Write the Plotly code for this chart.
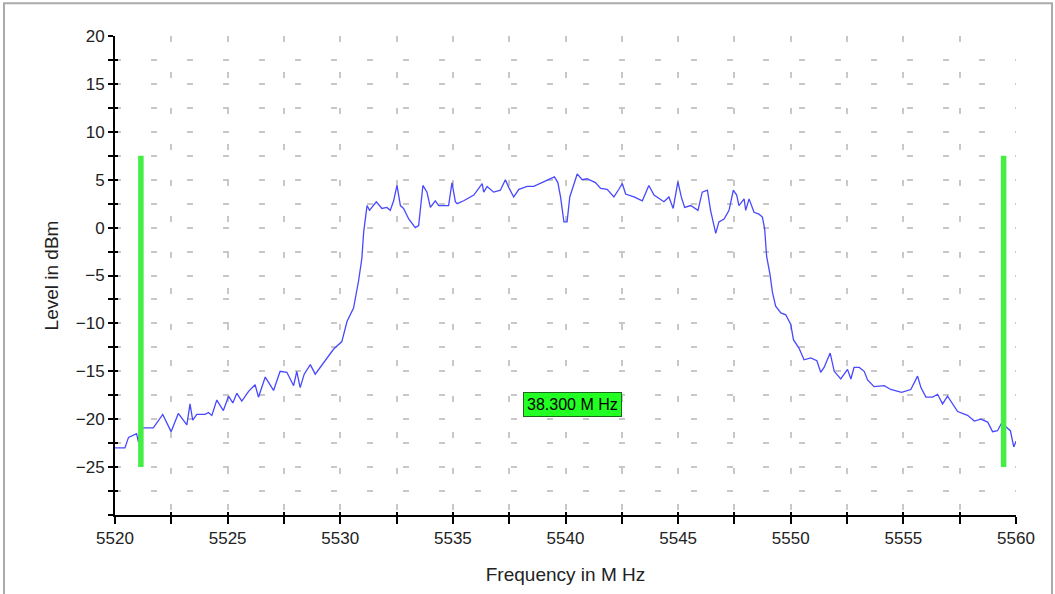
import plotly.graph_objects as go

# ---- data ----
freq_mhz = [
    5520.00, 5520.44, 5520.60, 5520.96, 5521.04, 5521.12, 5521.26, 5521.70, 5522.12, 5522.49,
    5522.81, 5523.19, 5523.33, 5523.45, 5523.63, 5524.00, 5524.15, 5524.30, 5524.52, 5524.81,
    5525.04, 5525.23, 5525.41, 5525.63, 5525.93, 5526.22, 5526.37, 5526.67, 5527.04, 5527.33,
    5527.63, 5527.93, 5528.07, 5528.22, 5528.40, 5528.67, 5528.89, 5529.26, 5529.50, 5529.70,
    5530.07, 5530.30, 5530.59, 5530.81, 5530.96, 5531.04, 5531.19, 5531.30, 5531.60, 5531.85,
    5532.07, 5532.22, 5532.37, 5532.52, 5532.67, 5532.81, 5533.04, 5533.33, 5533.48, 5533.59,
    5533.67, 5533.85, 5534.00, 5534.22, 5534.37, 5534.81, 5534.96, 5535.11, 5535.19, 5535.48,
    5535.93, 5536.30, 5536.37, 5536.52, 5536.81, 5537.11, 5537.33, 5537.48, 5537.70, 5537.93,
    5538.30, 5538.59, 5538.89, 5539.19, 5539.51, 5539.66, 5539.78, 5539.93, 5540.07, 5540.19,
    5540.37, 5540.52, 5540.74, 5540.96, 5541.33, 5541.56, 5541.85, 5542.15, 5542.37, 5542.52,
    5542.67, 5543.04, 5543.41, 5543.70, 5543.93, 5544.37, 5544.59, 5544.78, 5544.99, 5545.14,
    5545.29, 5545.56, 5545.88, 5546.07, 5546.30, 5546.44, 5546.67, 5546.81, 5547.04, 5547.26,
    5547.45, 5547.60, 5547.70, 5547.93, 5548.00, 5548.15, 5548.37, 5548.59, 5548.74, 5548.84,
    5548.93, 5549.08, 5549.19, 5549.33, 5549.56, 5549.78, 5550.00, 5550.12, 5550.37, 5550.59,
    5550.89, 5551.16, 5551.33, 5551.48, 5551.75, 5551.93, 5552.22, 5552.52, 5552.67, 5552.81,
    5553.04, 5553.26, 5553.41, 5553.70, 5554.15, 5554.44, 5554.92, 5555.33, 5555.63, 5555.78,
    5556.00, 5556.30, 5556.52, 5556.74, 5556.96, 5557.18, 5557.41, 5557.85, 5558.15, 5558.44,
    5558.74, 5558.96, 5559.18, 5559.36, 5559.63, 5559.75, 5559.90, 5560.00,
]
level_dbm = [
    -23.0, -23.0, -21.9, -21.5, -22.4, -21.0, -20.9, -20.9, -19.5, -21.3,
    -19.4, -20.6, -18.4, -20.1, -19.5, -19.5, -19.3, -19.6, -18.0, -19.1,
    -17.6, -18.3, -17.3, -18.1, -17.1, -16.4, -17.7, -15.6, -17.0, -15.0,
    -15.1, -16.5, -15.0, -16.7, -15.3, -14.3, -15.3, -14.1, -13.3, -12.7,
    -11.9, -9.8, -8.4, -5.6, -3.2, -0.45, 2.3, 1.8, 2.7, 2.0,
    2.1, 1.8, 2.8, 4.4, 2.3, 2.0, 0.9, 0.0, 0.2, 2.3,
    4.4, 3.7, 2.1, 2.8, 2.3, 2.3, 4.7, 2.7, 2.5, 2.8,
    3.4, 4.6, 3.7, 4.3, 3.7, 3.9, 5.0, 4.2, 3.2, 4.0,
    4.3, 4.3, 4.6, 4.9, 5.3, 4.7, 3.2, 0.6, 0.6, 3.2,
    4.6, 5.6, 5.0, 5.1, 4.7, 4.1, 4.0, 3.2, 4.0, 4.6,
    3.5, 3.2, 2.8, 4.4, 3.4, 2.7, 3.2, 2.0, 4.8, 3.2,
    2.1, 2.3, 1.8, 3.7, 3.9, 1.8, -0.6, 0.6, 0.9, 1.8,
    3.9, 3.4, 2.3, 3.0, 1.8, 3.0, 1.6, 1.4, 1.1, -0.1,
    -3.0, -4.9, -6.8, -8.2, -8.9, -9.1, -10.1, -11.7, -12.6, -13.8,
    -13.6, -13.9, -15.1, -14.6, -13.1, -15.0, -15.8, -14.8, -15.8, -14.6,
    -14.6, -15.0, -15.9, -16.6, -16.5, -16.9, -17.2, -16.9, -15.5, -16.7,
    -17.7, -17.7, -17.4, -18.4, -17.6, -18.4, -19.2, -19.6, -20.2, -20.0,
    -20.3, -21.3, -21.2, -20.4, -21.0, -21.2, -22.9, -22.3,
]
marker_freqs = [5521.15, 5559.45]
marker_span_db = [-25.0, 7.5]
label_level_db = -18.5
x_ticks = [5520, 5525, 5530, 5535, 5540, 5545, 5550, 5555, 5560]
y_ticks = [20, 15, 10, 5, 0, -5, -10, -15, -20, -25]

FONT = "Liberation Sans, Arial, sans-serif"
GRID = "#c8c8c8"

fig = go.Figure()

fig.add_trace(go.Scatter(
    x=freq_mhz, y=level_dbm, mode="lines",
    line=dict(color="#4848ff", width=1.3),
    showlegend=False, hoverinfo="skip",
))

for f in marker_freqs:
    fig.add_trace(go.Scatter(
        x=[f, f], y=marker_span_db, mode="lines",
        line=dict(color="#44ee44", width=5.5),
        showlegend=False, hoverinfo="skip",
    ))

# invisible trace to activate the inner-tick overlay axes
fig.add_trace(go.Scatter(
    x=freq_mhz, y=level_dbm, mode="lines", xaxis="x2", yaxis="y2",
    line=dict(width=0), opacity=0, showlegend=False, hoverinfo="skip",
))

bw = marker_freqs[1] - marker_freqs[0]
fig.add_annotation(
    x=sum(marker_freqs) / 2, y=label_level_db, xref="x", yref="y",
    text=f"{bw:.3f} M Hz", showarrow=False,
    font=dict(family=FONT, size=16, color="black"),
    bgcolor="#22ff22", bordercolor="#1a6a1a", borderwidth=1, borderpad=3,
)

grid_common = dict(showgrid=True, gridcolor=GRID, gridwidth=1.5, griddash="6px,30px")

fig.update_layout(
    width=1055, height=594,
    margin=dict(l=115, r=39, t=36, b=76),
    paper_bgcolor="white", plot_bgcolor="white",
    xaxis=dict(
        range=[5520, 5560], tickmode="array", tickvals=x_ticks,
        ticks="outside", ticklen=7, tickwidth=2, tickcolor="black",
        showline=True, linecolor="black", linewidth=2, zeroline=False,
        tickfont=dict(family=FONT, size=17, color="#222"),
        title=dict(text="Frequency in M Hz", font=dict(family=FONT, size=19, color="#222"), standoff=20),
        minor=dict(dtick=2.5, tick0=5520, ticks="outside", ticklen=7, tickwidth=2, tickcolor="black", **grid_common),
        **grid_common,
    ),
    yaxis=dict(
        range=[-30, 20], tickmode="array", tickvals=y_ticks,
        ticks="outside", ticklen=5, tickwidth=2, tickcolor="black",
        showline=True, linecolor="black", linewidth=2, zeroline=False,
        tickfont=dict(family=FONT, size=17, color="#222"),
        title=dict(text="Level in dBm", font=dict(family=FONT, size=19, color="#222"), standoff=12),
        minor=dict(dtick=2.5, tick0=-30, ticks="outside", ticklen=5, tickwidth=2, tickcolor="black", **grid_common),
        **grid_common,
    ),
    xaxis2=dict(
        overlaying="x", matches="x", range=[5520, 5560], side="bottom",
        tickmode="array", tickvals=x_ticks, ticks="inside", ticklen=3, tickwidth=2,
        tickcolor="black", showticklabels=False, showgrid=False, zeroline=False,
        showline=False,
        minor=dict(dtick=2.5, tick0=5520, ticks="inside", ticklen=3, tickwidth=2, tickcolor="black", showgrid=False),
    ),
    yaxis2=dict(
        overlaying="y", matches="y", range=[-30, 20], side="left",
        tickmode="array", tickvals=y_ticks, ticks="inside", ticklen=3, tickwidth=2,
        tickcolor="black", showticklabels=False, showgrid=False, zeroline=False,
        showline=False,
        minor=dict(dtick=2.5, tick0=-30, ticks="inside", ticklen=3, tickwidth=2, tickcolor="black", showgrid=False),
    ),
    shapes=[dict(
        type="rect", xref="paper", yref="paper",
        x0=(4 - 115) / 901, x1=(1052 - 115) / 901,
        y0=(518 - 600) / 482, y1=(518 - 3) / 482,
        line=dict(color="#aaaaaa", width=2), fillcolor="rgba(0,0,0,0)", layer="below",
    )],
)

fig.write_html(
    "out.html",
    config={"displayModeBar": False},
    post_script="document.body.style.margin='0';document.body.style.overflow='hidden';",
)
